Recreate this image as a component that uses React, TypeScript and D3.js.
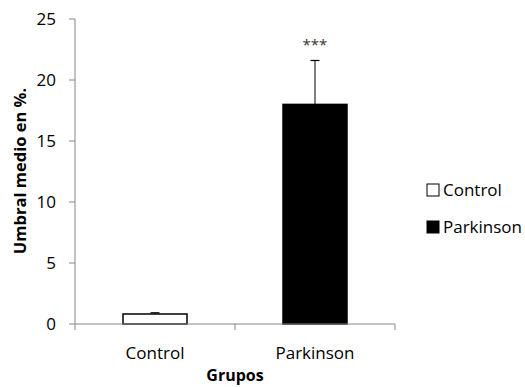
import React from "react";
import * as d3 from "d3";

const categories = ["Control", "Parkinson"];
const means = [0.82, 18.0];
const errors = [0.1, 3.6];
const fills = ["#ffffff", "#000000"];
const yTicks = [0, 5, 10, 15, 20, 25];
const significance = ["", "***"];
const yTitle = "Umbral medio en %.";
const xTitle = "Grupos";

const W = 525, H = 387;
const left = 75, right = 395, top = 19, bottom = 324;
const FONT = "'Open Sans', 'Noto Sans', sans-serif";

export default function App() {
  const y = d3.scaleLinear().domain([0, 25]).range([bottom, top]);
  const x = d3.scaleBand<string>().domain(categories).range([left, right]).paddingInner(0.6).paddingOuter(0.3);
  const step = x.step();
  const boundaries = [left, left + step, right];
  const axisColor = "#868686";
  return (
    <svg width={W} height={H} style={{ position: "absolute", left: 0, top: 0 }} fontFamily={FONT}>
      <rect width={W} height={H} fill="#fff" />
      {/* y axis */}
      <line x1={left} x2={left} y1={top} y2={bottom} stroke={axisColor} strokeWidth={1} />
      {yTicks.map((t) => (
        <g key={t}>
          <line x1={left - 6} x2={left} y1={y(t)} y2={y(t)} stroke={axisColor} />
          <text x={56} y={y(t)} dy="0.36em" textAnchor="end" fontSize={17} fill="#000">{t}</text>
        </g>
      ))}
      {/* bars */}
      {categories.map((c, i) => {
        const bx = x(c)!;
        const bw = x.bandwidth();
        const cx = bx + bw / 2;
        return (
          <g key={c}>
            <rect x={bx} y={y(means[i])} width={bw} height={y(0) - y(means[i])} fill={fills[i]} stroke="#000" strokeWidth={1.5} />
            <line x1={cx} x2={cx} y1={y(means[i])} y2={y(means[i] + errors[i])} stroke="#000" strokeWidth={1} />
            <line x1={cx - 4.5} x2={cx + 4.5} y1={y(means[i] + errors[i])} y2={y(means[i] + errors[i])} stroke="#000" strokeWidth={1.2} />
            {significance[i] && (
              <text x={cx} y={y(means[i] + errors[i]) - 10} textAnchor="middle" fontSize={15} fill="#333">{significance[i]}</text>
            )}
            <text x={cx} y={bottom + 35} textAnchor="middle" fontSize={17} fill="#000">{c}</text>
          </g>
        );
      })}
      {/* x axis */}
      <line x1={left} x2={right} y1={bottom} y2={bottom} stroke={axisColor} />
      {boundaries.map((b, i) => (
        <line key={i} x1={b} x2={b} y1={bottom} y2={bottom + 6} stroke={axisColor} />
      ))}
      {/* titles */}
      <text transform={`translate(26,171) rotate(-90)`} textAnchor="middle" fontSize={16.5} fontWeight="bold" fill="#000">{yTitle}</text>
      <text x={(left + right) / 2} y={381} textAnchor="middle" fontSize={16} fontWeight="bold" fill="#000">{xTitle}</text>
      {/* legend */}
      {categories.map((c, i) => (
        <g key={c} transform={`translate(427, ${184 + i * 37})`}>
          <rect x={0} y={0} width={12} height={12} fill={fills[i]} stroke="#000" strokeWidth={1} />
          <text x={16} y={6} dy="0.36em" fontSize={17} fill="#000">{c}</text>
        </g>
      ))}
    </svg>
  );
}
